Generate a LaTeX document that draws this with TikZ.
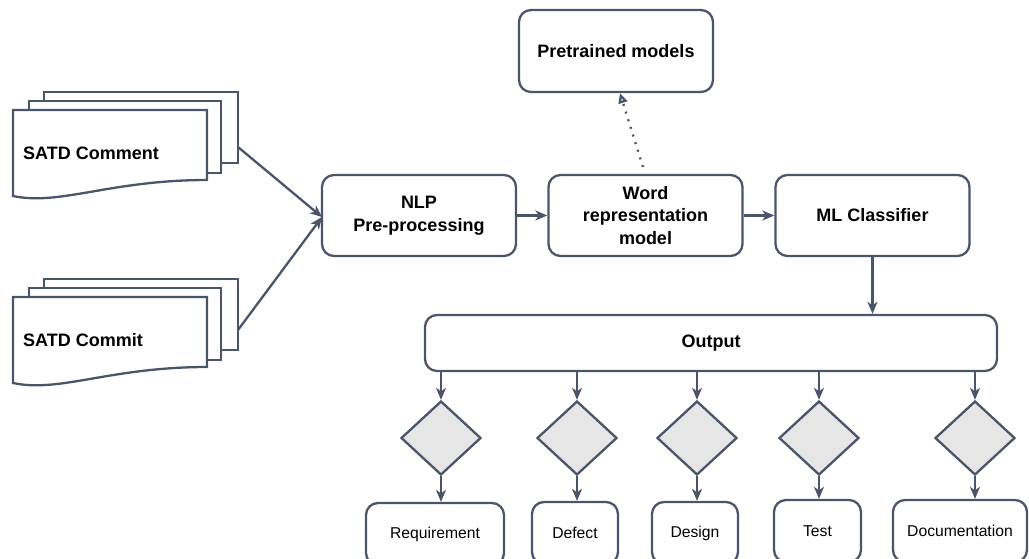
\documentclass[tikz,border=0pt]{standalone}
\usepackage{fontspec}
\setmainfont{Liberation Sans}
\usetikzlibrary{shapes.geometric,arrows.meta}
\definecolor{edge}{HTML}{4A5568}
\definecolor{diafill}{HTML}{E6E6E6}
\begin{document}
\begin{tikzpicture}[x=1pt,y=-1pt,
  line width=2.3pt, draw=edge,
  box/.style={draw=edge, fill=white, rounded corners=12pt, line width=2.3pt,
    align=center, inner sep=0pt, font=\fontsize{18}{22.5}\selectfont\bfseries},
  leaf/.style={draw=edge, fill=white, rounded corners=12pt, line width=2.3pt,
    inner sep=0pt, minimum height=62pt, font=\fontsize{15.7}{18}\selectfont},
  choice/.style={diamond, draw=edge, fill=diafill, line width=2.3pt, inner sep=0pt,
    minimum width=80pt, minimum height=74pt},
  sheet/.style={draw=edge, fill=white, line width=2.3pt, line join=miter},
  arr/.style={draw=edge, line width=2.3pt, -{Stealth[length=12pt,width=10pt,inset=3.5pt]}},
  doclabel/.style={anchor=west, inner sep=0pt, font=\fontsize{18}{20}\selectfont\bfseries}
]
\useasboundingbox (0,0) rectangle (1029,558);

% stacked document sheets (input sources)
\foreach \dy/\nm in {0/comment, 187/commit}{
  \begin{scope}[yshift=-\dy pt]
    \draw[sheet] (44,92) rectangle (238,163);
    \draw[sheet] (29,101) rectangle (221,173);
    \draw[sheet] (13,110) -- (207,110) -- (207,180)
      .. controls (110,180) and (60,206) .. (13,196) -- cycle;
  \end{scope}
}
\node[doclabel] (comment) at (22,153) {SATD Comment};
\node[doclabel] (commit) at (22,340) {SATD Commit};
\coordinate (commentout) at (238,147);
\coordinate (commitout) at (238,330);

% processing pipeline
\node[box, minimum width=194pt, minimum height=81pt] (nlp) at (419,215.5) {NLP\\Pre-processing};
\node[box, minimum width=194pt, minimum height=81pt] (word) at (645.5,215.5) {Word\\representation\\model};
\node[box, minimum width=194pt, minimum height=81pt] (ml) at (872.5,215.5) {ML Classifier};
\node[box, minimum width=194pt, minimum height=82pt] (pre) at (616,51) {Pretrained models};
\node[box, minimum width=572pt, minimum height=56pt] (out) at (711,343) {Output};

\coordinate (nlpin) at (322,217);
\draw[arr] (commentout) -- (nlpin);
\draw[arr] (commitout) -- (nlpin);
\draw[arr] (nlp) -- (word);
\draw[arr] (word) -- (ml);
\draw[arr] (ml.south) -- (ml.south |- out.north);
\coordinate (dotstart) at (643,167);
\draw[draw=edge, line width=2.3pt, dash pattern=on 2pt off 6pt,
  -{Triangle[open,length=10pt,width=9pt]}] (dotstart) -- (pre.south -| 620,0);

% decision diamonds and categories
\foreach \x/\nm in {441/d1, 577/d2, 697/d3, 819/d4, 975/d5}{
  \node[choice] (\nm) at (\x,438) {};
  \draw[arr] (\nm.north |- out.south) -- (\nm.north);
}
\node[leaf, minimum width=138pt] (req) at (435,534) {Requirement};
\node[leaf, minimum width=86pt] (def) at (575,533) {Defect};
\node[leaf, minimum width=86pt] (des) at (695,533) {Design};
\node[leaf, minimum width=87pt] (tst) at (817.5,531) {Test};
\node[leaf, minimum width=134pt] (doc) at (960,531) {Documentation};

\draw[arr] (d1.south) -- (d1.south |- req.north);
\draw[arr] (d2.south) -- (d2.south |- def.north);
\draw[arr] (d3.south) -- (d3.south |- des.north);
\draw[arr] (d4.south) -- (d4.south |- tst.north);
\draw[arr] (d5.south) -- (d5.south |- doc.north);
\end{tikzpicture}
\end{document}
